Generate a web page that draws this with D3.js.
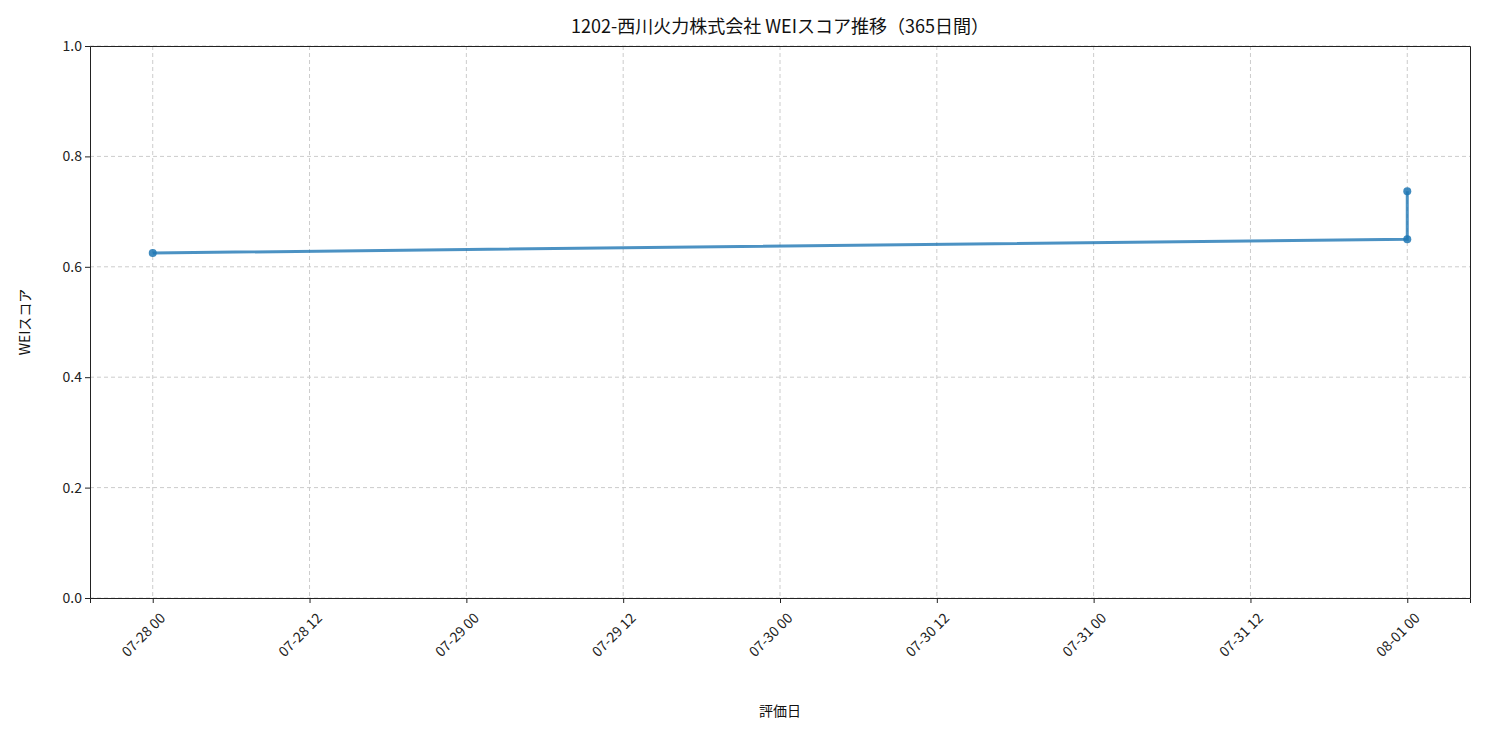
<!DOCTYPE html>
<html><head><meta charset="utf-8">
<script src="https://cdn.jsdelivr.net/npm/d3@7"></script>
<style>
body{margin:0;background:#fff;font-family:"Noto Sans CJK JP","Noto Sans",sans-serif;}
.grid line{stroke:#ccc;stroke-dasharray:4,3;}
</style></head><body>
<svg id="chart" width="1485" height="735"></svg>
<script>
// data
var dates = ["2025-07-28T00:00", "2025-08-01T00:00", "2025-08-01T00:00"]
var scores = [0.625, 0.65, 0.737]
var xTicks = ["2025-07-28T00:00","2025-07-28T12:00","2025-07-29T00:00","2025-07-29T12:00","2025-07-30T00:00","2025-07-30T12:00","2025-07-31T00:00","2025-07-31T12:00","2025-08-01T00:00"]
var yTicks = [0, 0.2, 0.4, 0.6, 0.8, 1.0]

var margins = {left: 90, top: 46, right: 15, bottom: 137}
var innerWidth = 1485 - margins.left - margins.right,
    innerHeight = 735 - margins.top - margins.bottom

var parse = d3.timeParse("%Y-%m-%dT%H:%M")
var data = dates.map(function(d, i){ return {x: parse(d), y: scores[i]} })

var svg = d3.select("svg#chart")
var g = svg.append("g").attr("transform", "translate(" + margins.left + "," + margins.top + ")")

var t0 = parse(xTicks[0]), t1 = parse(xTicks[xTicks.length-1])
var pad = (t1 - t0) * 0.05
var xScale = d3.scaleTime().domain([new Date(+t0 - pad), new Date(+t1 + pad)]).range([0, innerWidth])
var yScale = d3.scaleLinear().domain([0, 1]).range([innerHeight, 0])
var tickDates = xTicks.map(parse)

// grid
g.append("g").attr("class", "grid")
    .selectAll("line.v").data(tickDates).enter().append("line")
    .attr("x1", d => xScale(d)).attr("x2", d => xScale(d))
    .attr("y1", 0).attr("y2", innerHeight)
g.append("g").attr("class", "grid")
    .selectAll("line.h").data(yTicks).enter().append("line")
    .attr("x1", 0).attr("x2", innerWidth)
    .attr("y1", d => yScale(d)).attr("y2", d => yScale(d))

// axes
var xAxis = g.append("g").attr("class", "axis")
    .attr("transform", "translate(0," + innerHeight + ")")
    .call(d3.axisBottom(xScale).tickValues(tickDates).tickFormat(d3.timeFormat("%m-%d %H")).tickSizeOuter(0).tickSize(5))
xAxis.selectAll("text")
    .attr("text-anchor", "end")
    .attr("x", 0).attr("y", 0)
    .attr("transform", "translate(6,14) rotate(-45)")
var yAxis = g.append("g").attr("class", "axis")
    .call(d3.axisLeft(yScale).tickValues(yTicks).tickFormat(d3.format(".1f")).tickSizeOuter(0).tickSize(5))
g.append("g").attr("class", "axis")
    .attr("transform", "translate(" + innerWidth + ",0)")
    .call(d3.axisRight(yScale).tickValues([]).tickSizeOuter(0))
g.append("g").attr("class", "axis")
    .call(d3.axisTop(xScale).tickValues([]).tickSizeOuter(0))
g.selectAll(".axis").attr("font-size", null).attr("font-family", null)
g.selectAll(".axis text").style("font-size", "14px").attr("fill", "#222")
g.selectAll(".axis path, .axis line").attr("stroke", "#222")

// line + points
var line = d3.line().x(d => xScale(d.x)).y(d => yScale(d.y))
g.append("path").datum(data)
    .attr("d", line).attr("fill", "none")
    .attr("stroke", "#1f77b4").attr("stroke-width", 3).attr("opacity", 0.8)
g.selectAll("circle").data(data).enter().append("circle")
    .attr("cx", d => xScale(d.x)).attr("cy", d => yScale(d.y))
    .attr("r", 4).attr("fill", "#1f77b4").attr("opacity", 0.85)

// labels
svg.append("text").attr("x", margins.left + innerWidth/2).attr("y", 33)
    .attr("text-anchor", "middle").attr("font-size", "18px").attr("fill", "#111")
    .text("1202-西川火力株式会社 WEIスコア推移（365日間）")
svg.append("text").attr("x", margins.left + innerWidth/2).attr("y", 716)
    .attr("text-anchor", "middle").attr("font-size", "14px").attr("fill", "#111")
    .text("評価日")
svg.append("text").attr("transform", "rotate(-90)")
    .attr("x", -(margins.top + innerHeight/2)).attr("y", 30)
    .attr("text-anchor", "middle").attr("font-size", "14px").attr("fill", "#111")
    .text("WEIスコア")
</script>
</body></html>
